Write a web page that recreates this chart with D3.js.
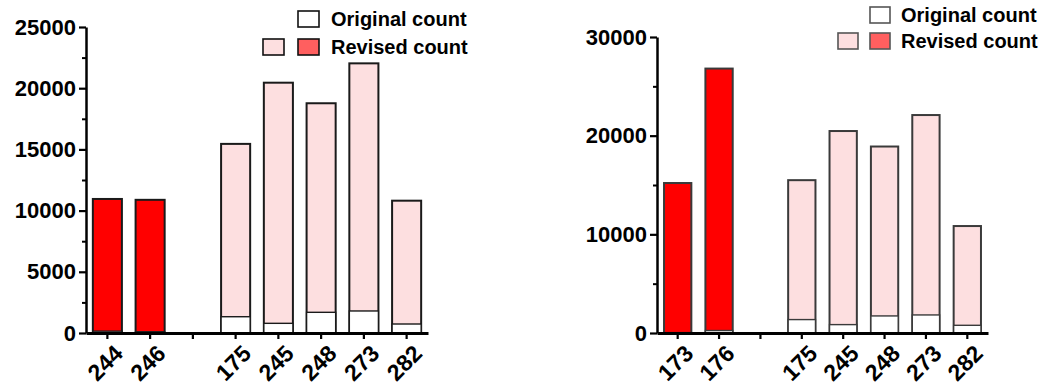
<!DOCTYPE html>
<html>
<head>
<meta charset="utf-8">
<script src="https://cdn.jsdelivr.net/npm/d3@7/dist/d3.min.js"></script>
<style>
  html, body { margin: 0; padding: 0; background: #fff; }
  svg { display: block; font-family: "Liberation Sans", Arial, sans-serif; font-weight: bold; }
</style>
</head>
<body>
<svg id="chart" width="1041" height="385"></svg>
<script>
// Left panel
const leftCategories = ["244", "246", "", "175", "245", "248", "273", "282"];
const leftGroups     = ["new", "new", "", "kept", "kept", "kept", "kept", "kept"];
const leftOriginal   = [150, 100, 0, 1330, 790, 1690, 1800, 735];
const leftRevised    = [10950, 10880, 0, 15450, 20450, 18770, 22030, 10810];
const leftTicks      = [0, 5000, 10000, 15000, 20000, 25000];

// Right panel
const rightCategories = ["173", "176", "", "175", "245", "248", "273", "282"];
const rightGroups     = ["new", "new", "", "kept", "kept", "kept", "kept", "kept"];
const rightOriginal   = [40, 250, 0, 1360, 850, 1730, 1830, 780];
const rightRevised    = [15200, 26800, 0, 15490, 20470, 18900, 22090, 10840];
const rightTicks      = [0, 10000, 20000, 30000];

const legendLabels = ["Original count", "Revised count"];

const fillFor = { new: "#ff0000", kept: "#fddfe0" };
const legendRed = "#ff5f5f";

const svg = d3.select("#chart");

function drawPanel(opt) {
  const g = svg.append("g");
  const x = d3.scaleBand()
    .domain(opt.categories.map((c, i) => i))
    .range([opt.x0, opt.x1])
    .paddingInner(opt.pad)
    .paddingOuter(opt.pad / 2);
  const y = d3.scaleLinear()
    .domain([0, opt.max])
    .range([opt.yBottom, opt.yTop]);

  const rows = opt.categories.map((c, i) => ({
    i, cat: c, group: opt.groups[i], orig: opt.original[i], rev: opt.revised[i]
  })).filter(d => d.cat !== "");

  // Revised count (full bar height)
  g.selectAll("rect.rev").data(rows).join("rect")
    .attr("class", "rev")
    .attr("x", d => x(d.i))
    .attr("width", x.bandwidth())
    .attr("y", d => y(d.rev))
    .attr("height", d => y(0) - y(d.rev))
    .attr("fill", d => fillFor[d.group])
    .attr("stroke", opt.barStroke)
    .attr("stroke-width", 2);

  // Original count overlaid from the baseline
  g.selectAll("rect.orig").data(rows).join("rect")
    .attr("class", "orig")
    .attr("x", d => x(d.i))
    .attr("width", x.bandwidth())
    .attr("y", d => y(d.orig))
    .attr("height", d => y(0) - y(d.orig))
    .attr("fill", "#ffffff")
    .attr("stroke", opt.barStroke)
    .attr("stroke-width", 1.4);

  // Minor y ticks
  const minor = d3.range(0, opt.max + 1, opt.minorStep).filter(v => !opt.ticks.includes(v));
  g.append("g")
    .attr("transform", `translate(${opt.x0},0)`)
    .call(d3.axisLeft(y).tickValues(minor).tickSize(4).tickFormat(""))
    .call(a => a.select(".domain").remove())
    .call(a => a.selectAll("line").attr("stroke", "#000").attr("stroke-width", 2));

  // Major y axis
  g.append("g")
    .attr("transform", `translate(${opt.x0},0)`)
    .call(d3.axisLeft(y).tickValues(opt.ticks).tickSize(7).tickSizeOuter(0).tickPadding(3).tickFormat(d3.format("d")))
    .call(a => a.select(".domain").attr("stroke", "#000").attr("stroke-width", 2.5))
    .call(a => a.selectAll("line").attr("stroke", "#000").attr("stroke-width", 2.2))
    .call(a => a.selectAll("text")
      .attr("fill", "#000")
      .style("font-size", "22px")
      .style("font-weight", "bold")
      .style("font-family", "'Liberation Sans', Arial, sans-serif"));

  // x axis
  const xa = g.append("g")
    .attr("transform", `translate(0,${opt.yBottom})`)
    .call(d3.axisBottom(x).tickSize(6).tickSizeOuter(0).tickFormat(i => opt.categories[i]))
    .call(a => a.select(".domain").attr("stroke", "#000").attr("stroke-width", 3))
    .call(a => a.selectAll("line").attr("stroke", "#000").attr("stroke-width", 2.2));
  xa.selectAll("text")
    .attr("fill", "#000")
    .style("font-size", "23px")
    .style("font-weight", "bold")
    .style("font-family", "'Liberation Sans', Arial, sans-serif")
    .attr("text-anchor", "end")
    .attr("dy", "0")
    .attr("y", 0)
    .attr("transform", "translate(17,22) rotate(-45)");

  // Legend
  const lg = g.append("g");
  const sw = opt.legend;
  lg.append("rect").attr("x", sw.x2).attr("y", sw.y1).attr("width", sw.w).attr("height", sw.h)
    .attr("fill", "#fff").attr("stroke", opt.legendStroke).attr("stroke-width", 1.6);
  lg.append("rect").attr("x", sw.x1).attr("y", sw.y2).attr("width", sw.w).attr("height", sw.h)
    .attr("fill", fillFor.kept).attr("stroke", opt.legendStroke).attr("stroke-width", 1.6);
  lg.append("rect").attr("x", sw.x2).attr("y", sw.y2).attr("width", sw.w).attr("height", sw.h)
    .attr("fill", legendRed).attr("stroke", opt.legendStroke).attr("stroke-width", 1.6);
  [sw.y1, sw.y2].forEach((yy, k) => {
    lg.append("text")
      .attr("x", sw.tx)
      .attr("y", yy + sw.h / 2)
      .attr("dy", "0.35em")
      .style("font-size", "20px")
      .attr("fill", "#000")
      .text(legendLabels[k]);
  });
}

drawPanel({
  categories: leftCategories, groups: leftGroups,
  original: leftOriginal, revised: leftRevised,
  ticks: leftTicks, max: 25000, minorStep: 2500,
  x0: 86, x1: 428, yBottom: 333, yTop: 27, pad: 0.32,
  barStroke: "#1a1a1a", legendStroke: "#111",
  legend: { x1: 263, x2: 298, y1: 11, y2: 39, w: 21, h: 16, tx: 331 }
});

drawPanel({
  categories: rightCategories, groups: rightGroups,
  original: rightOriginal, revised: rightRevised,
  ticks: rightTicks, max: 30000, minorStep: 5000,
  x0: 657, x1: 988, yBottom: 333, yTop: 37, pad: 0.34,
  barStroke: "#3a3a3a", legendStroke: "#555",
  legend: { x1: 838, x2: 870, y1: 7, y2: 33, w: 20, h: 16, tx: 901 }
});
</script>
</body>
</html>
